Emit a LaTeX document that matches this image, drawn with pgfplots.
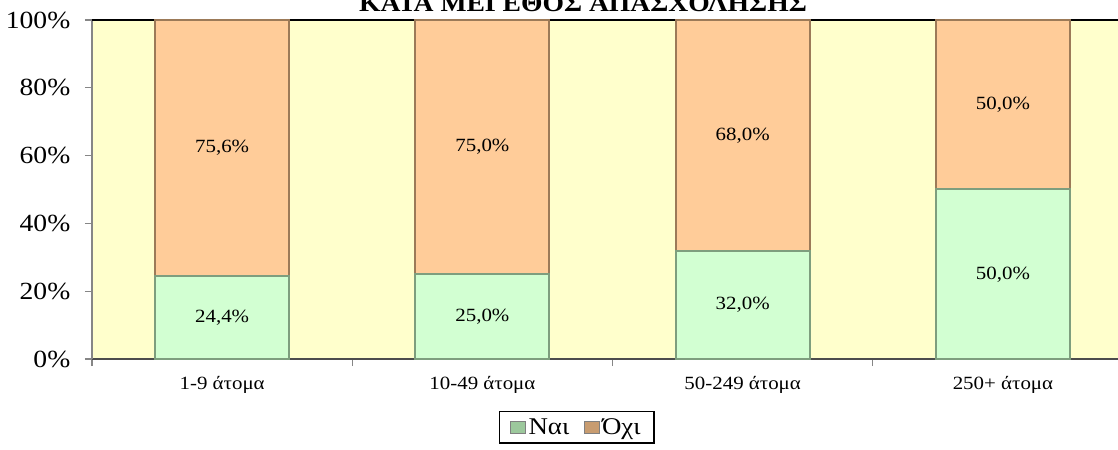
\documentclass[border=0pt]{standalone}
\usepackage{pgfplots}
\pgfplotsset{compat=1.18}
\usepackage{fontspec}
\setmainfont[FakeStretch=1.12]{Liberation Serif}
\definecolor{bgyellow}{HTML}{FFFFCC}
\definecolor{barorange}{HTML}{FFCC99}
\definecolor{bargreen}{HTML}{D2FFD2}
\definecolor{edgeorange}{HTML}{9C7A58}
\definecolor{edgegreen}{HTML}{7E9E7E}
\definecolor{axisgray}{HTML}{868686}
\definecolor{leggreen}{HTML}{9CC89C}
\definecolor{legorange}{HTML}{C89C70}
\begin{document}
\begin{tikzpicture}
\begin{axis}[
  at={(0,0)}, anchor=south west,
  scale only axis,
  width=769.5pt, height=254.25pt,
  xmin=-0.5, xmax=3.442,
  ymin=0, ymax=100,
  ybar stacked,
  bar width=100.5pt,
  axis background/.style={fill=bgyellow},
  axis x line*=bottom,
  axis y line*=left,
  axis line style={axisgray, line width=1pt},
  x axis line style={black!70, line width=1pt},
  xtick={0,1,2,3},
  xticklabels={1-9 άτομα, 10-49 άτομα, 50-249 άτομα, 250+ άτομα},
  major x tick style={draw=none},
  minor xtick={-0.5,0.5,1.5,2.5},
  minor x tick style={axisgray, line width=1pt},
  minor tick length=5.25pt,
  ytick={0,20,40,60,80,100},
  yticklabels={0\%,20\%,40\%,60\%,80\%,100\%},
  y tick style={axisgray, line width=1pt},
  major tick length=5.25pt,
  tick align=outside,
  x tick label style={font=\fontsize{14}{16}\selectfont, yshift=-4pt},
  y tick label style={font=\fontsize{18.5}{20}\selectfont, xshift=-7.5pt},
  /pgf/number format/assume math mode=true,
  visualization depends on={rawy \as \rawy},
  nodes near coords={\pgfmathprintnumber[fixed, fixed zerofill, precision=1, use comma]{\rawy}\%},
  every node near coord/.append style={font=\fontsize{14}{16}\selectfont, anchor=center},
  legend style={at={(0.3967,-0.1534)}, anchor=north west, draw=black, line width=1.1pt,
    font=\fontsize{18}{20}\selectfont, legend columns=2,
    /tikz/every even column/.append style={column sep=9pt},
    inner xsep=8pt, inner ysep=3pt},
  legend image code/.code={\fill[#1, draw=black!50, line width=0.6pt] (0pt,-4.5pt) rectangle (11pt,4.5pt);},
  clip=false,
]
\addplot[fill=bargreen, draw=edgegreen, line width=1.5pt, legend image post style={fill=leggreen}] coordinates {(0,24.4) (1,25.0) (2,32.0) (3,50.0)};
\addlegendentry{Ναι}
\addplot[fill=barorange, draw=edgeorange, line width=1.5pt, legend image post style={fill=legorange}] coordinates {(0,75.6) (1,75.0) (2,68.0) (3,50.0)};
\addlegendentry{Όχι}
\draw[black, line width=1pt] (axis cs:-0.5,100) -- (axis cs:3.442,100);
\end{axis}
\node[anchor=base, font=\bfseries\fontsize{18.5}{21}\selectfont, inner sep=0pt] at (368.25pt,260.25pt) {ΚΑΤΑ ΜΕΓΕΘΟΣ ΑΠΑΣΧΟΛΗΣΗΣ};
\pgfresetboundingbox
\useasboundingbox (-69pt,-68.25pt) rectangle (769.5pt,269.25pt);
\end{tikzpicture}
\end{document}
